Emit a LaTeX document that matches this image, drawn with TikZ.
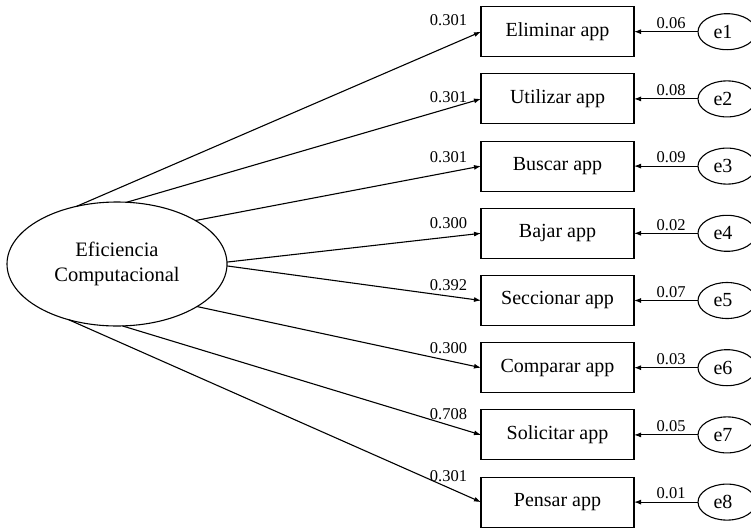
\documentclass[tikz,border=0pt]{standalone}
\usepackage{fontspec}
\setmainfont{Liberation Serif}
\usetikzlibrary{arrows.meta,shapes.geometric}
\begin{document}
\begin{tikzpicture}[x=1pt,y=-1pt,inner sep=0pt,outer sep=0pt,line width=1.1pt,
indicator/.style={draw,rectangle,minimum width=153pt,minimum height=50pt,font=\fontsize{20}{24}\selectfont},
errterm/.style={draw,ellipse,minimum width=58pt,minimum height=36pt,font=\fontsize{20}{24}\selectfont},
coef/.style={font=\fontsize{16.5}{19}\selectfont},
loading/.style={-{Latex[length=7pt,width=5pt]}}]
\useasboundingbox (0,0) rectangle (751,527);
\draw (117,264) node[draw,ellipse,minimum width=220pt,minimum height=124pt,align=center,font=\fontsize{20.5}{25}\selectfont] (EC) {Eficiencia\\Computacional};

\draw (557.5,31.7) node[indicator] (X1) {Eliminar app};
\draw (557.5,98.9) node[indicator] (X2) {Utilizar app};
\draw (557.5,166.1) node[indicator] (X3) {Buscar app};
\draw (557.5,233.3) node[indicator] (X4) {Bajar app};
\draw (557.5,300.5) node[indicator] (X5) {Seccionar app};
\draw (557.5,367.7) node[indicator] (X6) {Comparar app};
\draw (557.5,434.9) node[indicator] (X7) {Solicitar app};
\draw (557.5,502.1) node[indicator] (X8) {Pensar app};

\draw (727,31.7) node[errterm] (e1) {\hspace{-8pt}e1};
\draw (727,98.9) node[errterm] (e2) {\hspace{-8pt}e2};
\draw (727,166.1) node[errterm] (e3) {\hspace{-8pt}e3};
\draw (727,233.3) node[errterm] (e4) {\hspace{-8pt}e4};
\draw (727,300.5) node[errterm] (e5) {\hspace{-8pt}e5};
\draw (727,367.7) node[errterm] (e6) {\hspace{-8pt}e6};
\draw (727,434.9) node[errterm] (e7) {\hspace{-8pt}e7};
\draw (727,502.1) node[errterm] (e8) {\hspace{-8pt}e8};

\draw[loading] (EC.125) -- (X1.west);
\draw[loading] (EC.81) -- (X2.west);
\draw[loading] (EC.29) -- (X3.west);
\draw[loading] (EC.1) -- (X4.west);
\draw[loading] (EC.-1) -- (X5.west);
\draw[loading] (EC.-28) -- (X6.west);
\draw[loading] (EC.-85) -- (X7.west);
\draw[loading] (EC.-131) -- (X8.west);

\draw (X1.west) ++(-14,-12) node[coef,anchor=east] {0.301};
\draw (X2.west) ++(-14,-2) node[coef,anchor=east] {0.301};
\draw (X3.west) ++(-14,-9) node[coef,anchor=east] {0.301};
\draw (X4.west) ++(-14,-10) node[coef,anchor=east] {0.300};
\draw (X5.west) ++(-14,-15) node[coef,anchor=east] {0.392};
\draw (X6.west) ++(-14,-20) node[coef,anchor=east] {0.300};
\draw (X7.west) ++(-14,-21) node[coef,anchor=east] {0.708};
\draw (X8.west) ++(-14,-26) node[coef,anchor=east] {0.301};

\draw[loading] (e1.west) -- (X1.east) node[coef,pos=0.42,above=3pt] {0.06};
\draw[loading] (e2.west) -- (X2.east) node[coef,pos=0.42,above=3pt] {0.08};
\draw[loading] (e3.west) -- (X3.east) node[coef,pos=0.42,above=3pt] {0.09};
\draw[loading] (e4.west) -- (X4.east) node[coef,pos=0.42,above=3pt] {0.02};
\draw[loading] (e5.west) -- (X5.east) node[coef,pos=0.42,above=3pt] {0.07};
\draw[loading] (e6.west) -- (X6.east) node[coef,pos=0.42,above=3pt] {0.03};
\draw[loading] (e7.west) -- (X7.east) node[coef,pos=0.42,above=3pt] {0.05};
\draw[loading] (e8.west) -- (X8.east) node[coef,pos=0.42,above=3pt] {0.01};
\end{tikzpicture}
\end{document}
